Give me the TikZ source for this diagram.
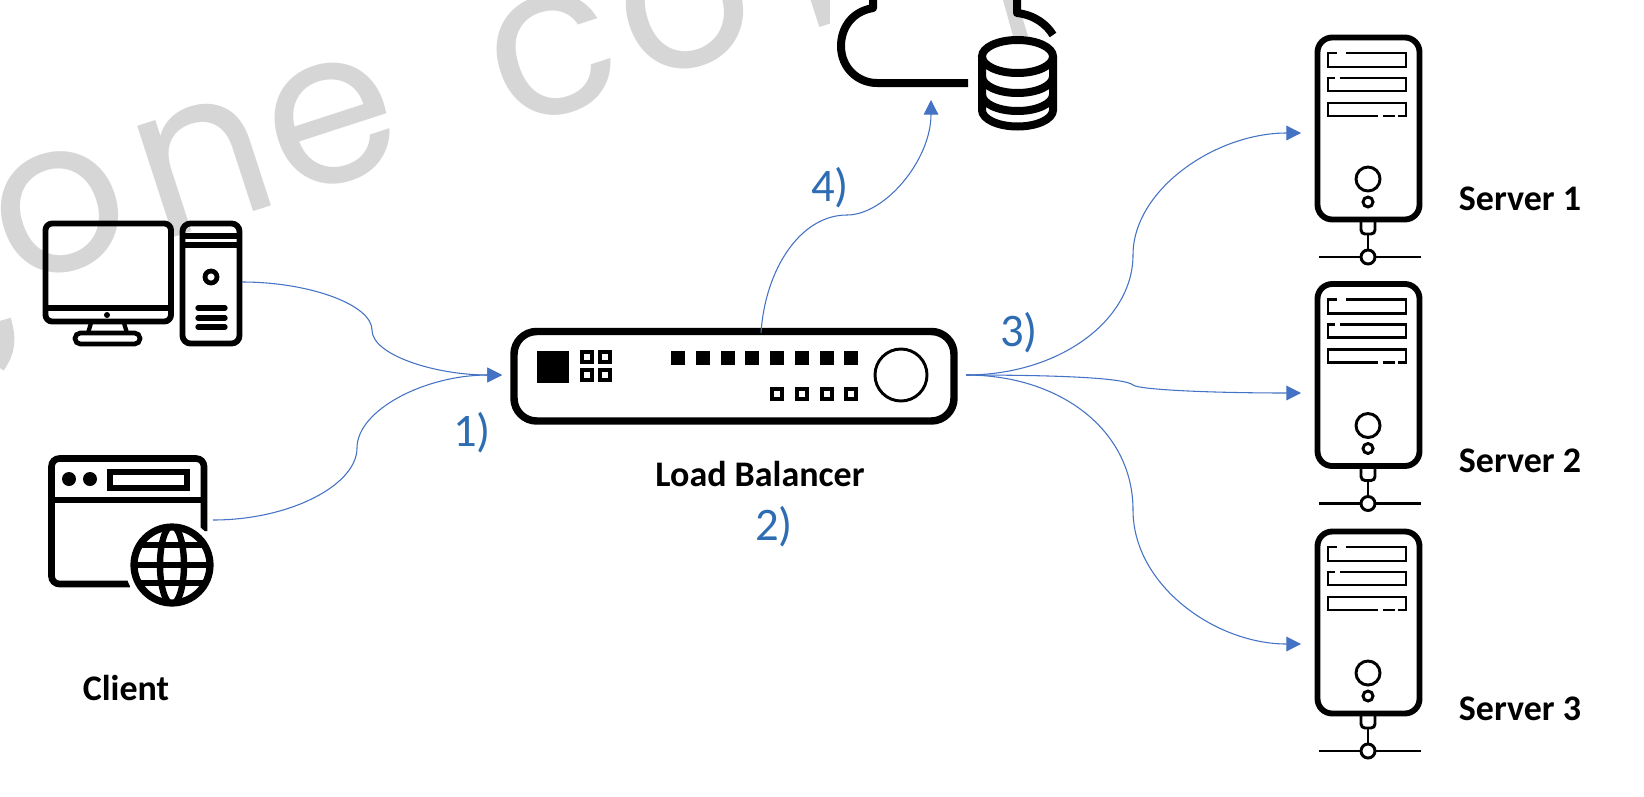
\documentclass[tikz,border=0pt]{standalone}
\usepackage{fontspec}
\setmainfont{Carlito}
\newfontfamily\markfont{Poppins}
\usetikzlibrary{arrows.meta}
\definecolor{linkblue}{HTML}{4472C4}
\definecolor{numblue}{HTML}{2E6DB4}
\definecolor{wmgray}{HTML}{D6D6D6}
\tikzset{
  wm/.style={text=wmgray,inner sep=0pt,rotate=18,xscale=0.98,font=\markfont\fontsize{160}{160}\selectfont},
  link/.style={draw=linkblue,line width=0.8pt},
  linkarrow/.style={link,-{Triangle[length=11pt,width=11pt,fill=linkblue]}},
  num/.style={text=numblue,inner sep=0pt,font=\fontsize{35}{35}\selectfont},
  lab/.style={text=black,inner sep=0pt,font=\bfseries\fontsize{27}{27}\selectfont},
  ic/.style={draw=black,line width=4.4pt,line cap=butt,line join=round},
  icthin/.style={draw=black,line width=2.2pt},
  serverpic/.pic={
    \draw[ic] (2.5,2.5) [rounded corners=11pt] rectangle (104.5,184.5);
    \draw[icthin] (22,18) -- (13,18) -- (13,32) -- (91,32) -- (91,18) -- (31,18);
    \draw[icthin] (20,43) -- (13,43) -- (13,56) -- (91,56) -- (91,43) -- (25,43);
    \draw[icthin] (63,81) -- (13,81) -- (13,68) -- (91,68) -- (91,81) -- (83,81) (68,81) -- (80,81);
    \draw[icthin] (53,144) circle[radius=12];
    \draw[icthin] (53,167) circle[radius=5];
    \draw[icthin] (46,186) -- (46,192) [rounded corners=3pt] -- (46,199) -- (60,199) -- (60,186);
    \draw[icthin] (53,199) -- (53,215);
    \draw[icthin] (4,222) -- (46,222) (60,222) -- (106,222);
    \draw[icthin] (53,222) circle[radius=7];
  }
}
\begin{document}
\begin{tikzpicture}[x=0.75pt,y=-0.75pt]
\useasboundingbox (0,0) rectangle (1644,796);
\clip (0,0) rectangle (1644,796);
\fill[white] (0,0) rectangle (1644,796);
% watermark
\node[wm] (wo) at (60,212) {o};
\node[wm] (wn) at (204,165) {n};
\node[wm] (we) at (332,124) {e};
\node[wm] (wc) at (553,55) {c};
\node[wm] (wp) at (685,8) {o};
\node[wm] (wq) at (850,-45) {n};
\draw[wmgray,line width=12pt] (3,320) .. controls (9,340) and (7,352) .. (-3,366);
% cloud and database
\fill[white] (830,0) rectangle (1062,135);
\fill[wmgray] (1003,0) -- (1013,36) -- (1028,36) -- (1017,0) -- cycle;
\draw[line width=6pt,line join=round] (873,0) -- (873,8) .. controls (850,12) and (841,30) .. (841,46) .. controls (841,68) and (858,83) .. (877,83) -- (968,83);
\draw[line width=6pt,line join=round] (1017,0) -- (1017,13) .. controls (1035,15) and (1047,25) .. (1053,35);
\draw[line width=6pt,fill=white] (1017.5,56.5) circle[x radius=35.5,y radius=16.5];
\draw[line width=6pt] (982,56.5) -- (982,110) arc[start angle=180,end angle=0,x radius=35.5,y radius=16.5] -- (1053,56.5);
\draw[line width=6pt] (982,76.5) arc[start angle=180,end angle=0,x radius=35.5,y radius=16.5];
\draw[line width=6pt] (982,94.5) arc[start angle=180,end angle=0,x radius=35.5,y radius=16.5];
% desktop
\draw[ic,rounded corners=5pt] (45.5,223.5) rectangle (171,321.5);
\draw[line width=4pt] (45,308) -- (171,308);
\fill (107,315) circle[radius=3];
\draw[line width=3.2pt] (91,323) -- (88,333) (124,323) -- (127,333);
\draw[line width=3.5pt,rounded corners=4pt] (75,344) -- (75,333) -- (140,333) -- (140,344) -- cycle;
\draw[ic,rounded corners=6pt] (182.5,223.5) rectangle (239.5,343.5);
\draw[line width=4pt] (182,236) -- (240,236) (182,245) -- (240,245);
\draw[line width=3.6pt] (211,277) circle[radius=6];
\draw[line width=4pt,line cap=round] (198,308) -- (225,308) (198,318) -- (225,318) (198,327) -- (225,327);
% browser
\draw[line width=5pt,rounded corners=6pt] (204,531) -- (204,458.5) -- (51.5,458.5) -- (51.5,584) [sharp corners] -- (130,584);
\draw[line width=5pt] (50,500) -- (204,500);
\fill (69,479) circle[radius=7] (90,479) circle[radius=7];
\draw[line width=4.6pt] (110,472) rectangle (187,488);
\fill[white] (172,565) circle[radius=47];
\begin{scope}
\clip (172,565) circle[radius=40];
\draw[line width=4.6pt] (120,545) -- (224,545) (120,565) -- (224,565) (120,583) -- (224,583);
\draw[line width=4.8pt] (172,565) circle[x radius=12,y radius=39];
\end{scope}
\draw[line width=5.4pt] (172,565) circle[radius=38];
% load balancer
\draw[line width=5.6pt,rounded corners=17pt] (514,331.5) rectangle (954,421);
\fill (537,351) rectangle (569,383);
\foreach \px/\py in {587/357,605/357,587/375,605/375,777/394,802/394,827/394,851/394}
  \draw[line width=3.6pt] (\px-5,\py-5) rectangle (\px+5,\py+5);
\foreach \px in {678,703,728,752,777,802,827,851}
  \fill (\px-7,351) rectangle (\px+7,365);
\draw[line width=2.2pt] (901,375) circle[radius=26];
% servers
\pic (serverA) at (1315,35) {serverpic};
\pic (serverB) at (1315,281.5) {serverpic};
\pic (serverC) at (1315,529) {serverpic};
% labels
\node[lab] (clientlab) at (126,688) {Client};
\node[lab] (lblab) at (760,474) {Load Balancer};
\node[lab] (s1lab) at (1520,199) {Server 1};
\node[lab] (s2lab) at (1520,461) {Server 2};
\node[lab] (s3lab) at (1520,709) {Server 3};
\node[num] (n1) at (472,433) {1)};
\node[num] (n2) at (774,527) {2)};
\node[num] (n3) at (1019,333) {3)};
\node[num] (n4) at (830,188) {4)};
% connector ends
\coordinate (pcout) at (242,282);
\coordinate (pcmid) at (372,330);
\coordinate (webout) at (213,520);
\coordinate (webmid) at (357,448);
\coordinate (lbin) at (502,375);
\coordinate (lbtop) at (761,333);
\coordinate (upmid) at (847,215);
\coordinate (cloudin) at (931,100);
\coordinate (lbout) at (966,375);
\coordinate (midA) at (1133,255);
\coordinate (midB) at (1133,385);
\coordinate (midC) at (1133,510);
\coordinate (inA) at (1301,133);
\coordinate (inB) at (1301,393);
\coordinate (inC) at (1301,644);
\draw[link] (pcout) .. controls (310,282) and (372,305) .. (pcmid);
\draw[linkarrow] (pcmid) .. controls (372,355) and (435,375) .. (lbin);
\draw[link] (webout) .. controls (290,520) and (357,485) .. (webmid);
\draw[linkarrow] (webmid) .. controls (357,410) and (425,375) .. (lbin);
\draw[link] (lbtop) .. controls (765,270) and (800,215) .. (upmid);
\draw[linkarrow] (upmid) .. controls (885,215) and (931,160) .. (cloudin);
\draw[link] (lbout) .. controls (1060,375) and (1133,320) .. (midA);
\draw[linkarrow] (midA) .. controls (1133,190) and (1215,133) .. (inA);
\draw[link] (lbout) .. controls (1060,375) and (1125,378) .. (midB);
\draw[linkarrow] (midB) .. controls (1140,390) and (1215,393) .. (inB);
\draw[link] (lbout) .. controls (1060,375) and (1133,430) .. (midC);
\draw[linkarrow] (midC) .. controls (1133,585) and (1215,644) .. (inC);
\end{tikzpicture}
\end{document}
